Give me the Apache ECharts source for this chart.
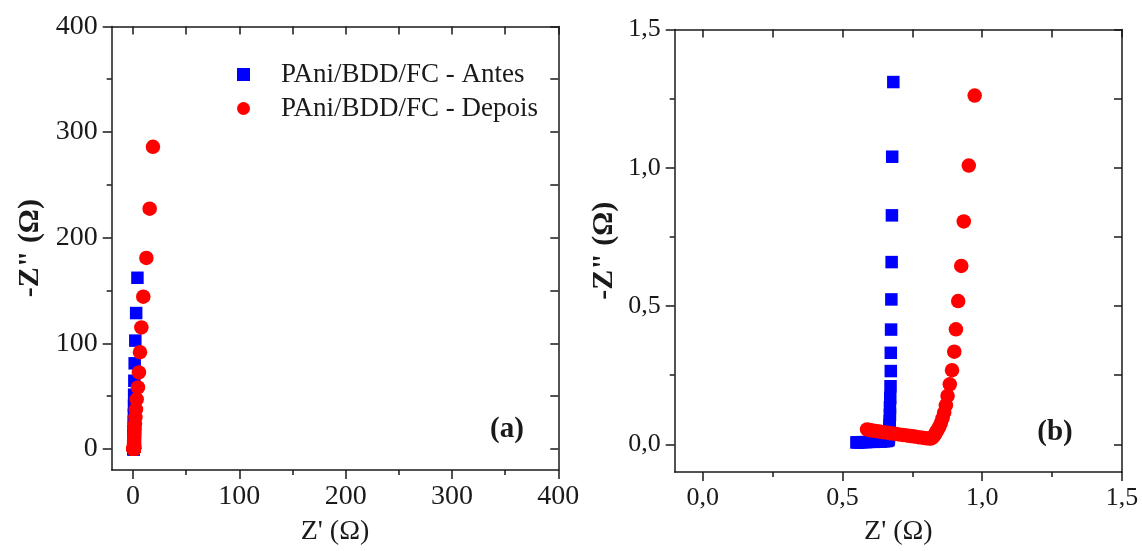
<!DOCTYPE html>
<html><head><meta charset="utf-8">
<script src="https://cdn.jsdelivr.net/npm/echarts@6/dist/echarts.min.js"></script>
<style>html,body{margin:0;padding:0;background:#fff}#c{width:1142px;height:551px}</style>
</head><body><div id="c"></div>
<script>
// ---- data ----
const seriesNames = ['PAni/BDD/FC - Antes', 'PAni/BDD/FC - Depois'];

const antesZr = [4.2, 3.0, 2.2, 1.6, 1.3, 1.1, 0.95, 0.87, 0.80, 0.76, 0.73, 0.71, 0.70, 0.695, 0.69, 0.688, 0.686, 0.685, 0.684, 0.683, 0.682, 0.682,
  0.678, 0.677, 0.676, 0.675, 0.674, 0.673, 0.673, 0.672, 0.671, 0.670, 0.670, 0.669, 0.668, 0.668, 0.667, 0.667, 0.666, 0.666, 0.665, 0.663,
  0.658, 0.649, 0.638, 0.625, 0.612, 0.598, 0.585, 0.573, 0.563, 0.555, 0.550];
const antesZi = [162, 128.6, 102.5, 81, 64.5, 51.3, 40.8, 32.4, 25.8, 20.5, 16.3, 12.9, 10.3, 8.2, 6.5, 5.2, 4.1, 3.3, 2.6, 2.07, 1.65, 1.31,
  1.04, 0.828, 0.659, 0.524, 0.415, 0.331, 0.265, 0.21, 0.168, 0.134, 0.107, 0.085, 0.068, 0.054, 0.043, 0.034, 0.027, 0.022, 0.017, 0.014,
  0.012, 0.011, 0.010, 0.010, 0.009, 0.009, 0.008, 0.008, 0.007, 0.007, 0.007];

const depoisZr = [18.8, 15.7, 12.6, 9.7, 7.9, 6.6, 5.6, 4.7, 3.5, 2.8, 2.3, 1.9, 1.6, 1.4, 1.25, 1.15, 1.08, 1.04, 1.02, 1.0, 0.995, 0.99, 0.985, 0.98,
  0.973, 0.952, 0.934, 0.925, 0.914, 0.906, 0.900, 0.892, 0.884, 0.876, 0.870, 0.864, 0.858, 0.852, 0.846, 0.840, 0.835, 0.830, 0.826, 0.822, 0.818, 0.812,
  0.800, 0.786, 0.772, 0.758, 0.744, 0.730, 0.716, 0.702, 0.688, 0.674, 0.660, 0.646, 0.632, 0.618, 0.606, 0.596, 0.588];
const depoisZi = [286, 227.4, 180.8, 144.1, 115, 91.5, 72.4, 58.2, 46.9, 37.4, 29.8, 23.7, 18.9, 15.0, 12.0, 9.5, 7.6, 6.0, 4.8, 3.8, 3.0, 2.4, 1.9, 1.55,
  1.261, 1.008, 0.806, 0.645, 0.518, 0.416, 0.335, 0.268, 0.217, 0.175, 0.141, 0.115, 0.094, 0.077, 0.063, 0.052, 0.043, 0.035, 0.029, 0.025, 0.022, 0.021,
  0.022, 0.024, 0.026, 0.028, 0.030, 0.032, 0.034, 0.036, 0.038, 0.040, 0.042, 0.044, 0.046, 0.048, 0.050, 0.052, 0.054];

// tick values
const majorTicksA = [0, 100, 200, 300, 400];
const minorTicksA = [50, 150, 250, 350];
const majorTicksB = [0, 0.5, 1.0, 1.5];
const minorTicksB = [0.25, 0.75, 1.25];
const rangeA = [-20, 400];
const rangeB = [-0.1, 1.5];
const xTitle = "Z' (\u03A9)";
const yTitle = '-Z" (\u03A9)';
const panelLabels = ['(a)', '(b)'];

// ---- chart ----
const FONT = '"Liberation Serif", "Times New Roman", serif';
const AX = '#1a1a1a';
const fmtA = v => String(Math.round(v));
const fmtB = v => v.toFixed(1).replace('.', ',');

function pairs(xs, ys) { return xs.map((x, i) => [x, ys[i]]); }
const allA = majorTicksA.concat(minorTicksA).sort((a, b) => a - b);
const allB = majorTicksB.concat(minorTicksB).sort((a, b) => a - b);

function mainAxis(dim, g, range, major, fmt, name, nameGap, fs, nfs) {
  return {
    gridIndex: g, type: 'value', min: range[0], max: range[1],
    position: dim === 'x' ? 'bottom' : 'left',
    axisLine: { show: true, onZero: false, lineStyle: { color: AX, width: 1.5 } },
    axisTick: { show: true, inside: false, length: 9, customValues: major, lineStyle: { color: AX, width: 1.5 } },
    axisLabel: { show: true, customValues: major, formatter: fmt, margin: dim === 'x' ? 13 : 14, color: AX, fontSize: fs, fontFamily: FONT },
    splitLine: { show: false }, minorTick: { show: false },
    name: name, nameLocation: 'middle', nameGap: nameGap,
    nameTextStyle: { fontSize: nfs, fontFamily: FONT, color: AX, fontWeight: dim === 'y' ? 'bold' : 'normal' }
  };
}
function minorAxis(dim, g, range, minor) {
  return {
    gridIndex: g, type: 'value', min: range[0], max: range[1],
    position: dim === 'x' ? 'bottom' : 'left',
    axisLine: { show: false, onZero: false },
    axisTick: { show: true, inside: false, length: 5, customValues: minor, lineStyle: { color: AX, width: 1.5 } },
    axisLabel: { show: false }, splitLine: { show: false }
  };
}
function mirrorAxis(dim, g, range, all) {
  return {
    gridIndex: g, type: 'value', min: range[0], max: range[1],
    position: dim === 'x' ? 'top' : 'right',
    axisLine: { show: true, onZero: false, lineStyle: { color: AX, width: 1.5 } },
    axisTick: { show: true, inside: true, length: 8, customValues: all, lineStyle: { color: AX, width: 1.5 } },
    axisLabel: { show: false }, splitLine: { show: false }
  };
}

const option = {
  backgroundColor: '#fff',
  animation: false,
  grid: [
    { left: 111.7, top: 26.4, width: 446.6, height: 446.9, containLabel: false },
    { left: 674.7, top: 29.5, width: 447.3, height: 446.8, containLabel: false }
  ],
  xAxis: [
    mainAxis('x', 0, rangeA, majorTicksA, fmtA, xTitle, 48, 28, 28),
    minorAxis('x', 0, rangeA, minorTicksA),
    mirrorAxis('x', 0, rangeA, allA),
    mainAxis('x', 1, rangeB, majorTicksB, fmtB, xTitle, 46, 26, 28),
    minorAxis('x', 1, rangeB, minorTicksB),
    mirrorAxis('x', 1, rangeB, allB)
  ],
  yAxis: [
    mainAxis('y', 0, rangeA, majorTicksA, fmtA, yTitle, 66, 28, 30),
    minorAxis('y', 0, rangeA, minorTicksA),
    mirrorAxis('y', 0, rangeA, allA),
    mainAxis('y', 1, rangeB, majorTicksB, fmtB, yTitle, 55, 26, 30),
    minorAxis('y', 1, rangeB, minorTicksB),
    mirrorAxis('y', 1, rangeB, allB)
  ],
  legend: {
    orient: 'vertical', left: 232, top: 56, itemWidth: 13, itemHeight: 13, itemGap: 7,
    data: [{ name: seriesNames[0], icon: 'rect' }, { name: seriesNames[1], icon: 'circle' }],
    textStyle: { fontSize: 27, fontFamily: FONT, color: AX, lineHeight: 27, padding: [0, 0, 0, 26] }
  },
  series: [
    { name: seriesNames[0], type: 'scatter', xAxisIndex: 0, yAxisIndex: 0, symbol: 'rect', symbolSize: 12.5, itemStyle: { color: '#0000ff', opacity: 1 }, data: pairs(antesZr, antesZi), clip: true },
    { name: seriesNames[1], type: 'scatter', xAxisIndex: 0, yAxisIndex: 0, symbol: 'circle', symbolSize: 14.5, itemStyle: { color: '#ff0000', opacity: 1 }, data: pairs(depoisZr, depoisZi), clip: true },
    { name: seriesNames[0], type: 'scatter', xAxisIndex: 3, yAxisIndex: 3, symbol: 'rect', symbolSize: 12.5, itemStyle: { color: '#0000ff', opacity: 1 }, data: pairs(antesZr, antesZi), clip: true },
    { name: seriesNames[1], type: 'scatter', xAxisIndex: 3, yAxisIndex: 3, symbol: 'circle', symbolSize: 14.5, itemStyle: { color: '#ff0000', opacity: 1 }, data: pairs(depoisZr, depoisZi), clip: true }
  ],
  graphic: [
    { type: 'text', x: 507, y: 430, style: { text: panelLabels[0], align: 'center', verticalAlign: 'middle', font: 'bold 29px "Liberation Serif"', fill: AX } },
    { type: 'text', x: 1055, y: 433, style: { text: panelLabels[1], align: 'center', verticalAlign: 'middle', font: 'bold 29px "Liberation Serif"', fill: AX } }
  ]
};

const chart = echarts.init(document.getElementById('c'), null, { renderer: 'canvas' });
chart.setOption(option);
</script>
</body></html>
